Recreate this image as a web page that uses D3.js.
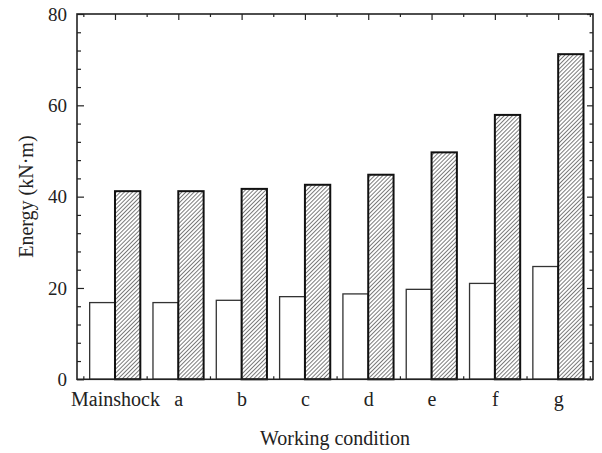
<!DOCTYPE html>
<html>
<head>
<meta charset="utf-8">
<script src="https://cdn.jsdelivr.net/npm/d3@7"></script>
<style>
  body { margin: 0; background: #fff; }
  text { font-family: "Liberation Serif", "DejaVu Serif", serif; fill: #222; }
</style>
</head>
<body>
<div id="chart"></div>
<script>
// chart data
let categories = ['Mainshock', 'a', 'b', 'c', 'd', 'e', 'f', 'g'];
let plainValues = [16.8, 16.8, 17.3, 18.1, 18.7, 19.7, 21.0, 24.7];
let hatchedValues = [41.2, 41.2, 41.7, 42.6, 44.8, 49.7, 57.9, 71.2];
let yMajorTicks = [0, 20, 40, 60, 80];

let svgWidth = 602;
let svgHeight = 453;
let plotLeft = 77, plotRight = 593, plotTop = 14, plotBottom = 379.3;

let svg = d3.select('#chart').append('svg')
    .attr('width', svgWidth)
    .attr('height', svgHeight);

// hatch pattern
svg.append('defs').append('pattern')
    .attr('id', 'hatch')
    .attr('patternUnits', 'userSpaceOnUse')
    .attr('width', 2.9)
    .attr('height', 4)
    .attr('patternTransform', 'rotate(45)')
    .append('line')
    .attr('x1', 0).attr('y1', 0)
    .attr('x2', 0).attr('y2', 4)
    .attr('stroke', '#111')
    .attr('stroke-width', 1.1);

let x = d3.scaleLinear().domain([0.4, 8.55]).range([plotLeft, plotRight]);
let y = d3.scaleLinear().domain([0, 80]).range([plotBottom, plotTop]);

let centers = categories.map((d, i) => i + 1);
let bounds = d3.range(0.5, 8.6, 1);
let yMinor = d3.range(0, 81, 4).filter(v => v % 20 != 0);

let barW = x(1.4) - x(1);

// bars
svg.selectAll('.plain').data(plainValues).enter()
    .append('rect')
    .attr('class', 'plain')
    .attr('x', (d, i) => x(i + 1) - barW)
    .attr('y', d => y(d))
    .attr('width', barW)
    .attr('height', d => y(0) - y(d))
    .attr('fill', '#fff')
    .attr('stroke', '#333')
    .attr('stroke-width', 1.3);

svg.selectAll('.hatched').data(hatchedValues).enter()
    .append('rect')
    .attr('class', 'hatched')
    .attr('x', (d, i) => x(i + 1))
    .attr('y', d => y(d))
    .attr('width', barW)
    .attr('height', d => y(0) - y(d))
    .attr('fill', 'url(#hatch)')
    .attr('stroke', '#111')
    .attr('stroke-width', 2);

// axes
function styleAxis(g) {
    g.select('.domain').remove();
    g.selectAll('line').attr('stroke', '#222').attr('stroke-width', 1.2);
    g.selectAll('text').attr('font-size', '20px').attr('fill', '#222');
}

svg.append('g')
    .attr('transform', `translate(${plotLeft},0)`)
    .call(d3.axisLeft(y).tickValues(yMajorTicks).tickSizeInner(-7).tickSizeOuter(0).tickPadding(10))
    .call(styleAxis)
    .selectAll('text').attr('font-size', '19px');
svg.append('g')
    .attr('transform', `translate(${plotLeft},0)`)
    .call(d3.axisLeft(y).tickValues(yMinor).tickSize(-4).tickFormat(''))
    .call(styleAxis);
svg.append('g')
    .attr('transform', `translate(${plotRight},0)`)
    .call(d3.axisRight(y).tickValues(yMajorTicks).tickSize(-6).tickFormat(''))
    .call(styleAxis);
svg.append('g')
    .attr('transform', `translate(${plotRight},0)`)
    .call(d3.axisRight(y).tickValues(yMinor).tickSize(-3.5).tickFormat(''))
    .call(styleAxis);

svg.append('g')
    .attr('transform', `translate(0,${plotTop})`)
    .call(d3.axisTop(x).tickValues(centers).tickSize(-6).tickFormat(''))
    .call(styleAxis);
svg.append('g')
    .attr('transform', `translate(0,${plotTop})`)
    .call(d3.axisTop(x).tickValues(bounds).tickSize(-3).tickFormat(''))
    .call(styleAxis);
svg.append('g')
    .attr('transform', `translate(0,${plotBottom})`)
    .call(d3.axisBottom(x).tickValues(bounds).tickSize(-3).tickFormat(''))
    .call(styleAxis);
svg.append('g')
    .attr('transform', `translate(0,${plotBottom})`)
    .call(d3.axisBottom(x).tickValues(centers).tickSize(0).tickPadding(13)
        .tickFormat((d, i) => categories[i]))
    .call(styleAxis);

// frame
svg.append('rect')
    .attr('x', plotLeft).attr('y', plotTop)
    .attr('width', plotRight - plotLeft).attr('height', plotBottom - plotTop)
    .attr('fill', 'none')
    .attr('stroke', '#222')
    .attr('stroke-width', 1.6);

// titles
svg.append('text')
    .attr('x', (plotLeft + plotRight) / 2)
    .attr('y', 445)
    .attr('text-anchor', 'middle')
    .attr('font-size', '20px')
    .text('Working condition');

svg.append('text')
    .attr('transform', `translate(33,${(plotTop + plotBottom) / 2}) rotate(-90)`)
    .attr('text-anchor', 'middle')
    .attr('font-size', '20px')
    .text('Energy (kN·m)');
</script>
</body>
</html>
